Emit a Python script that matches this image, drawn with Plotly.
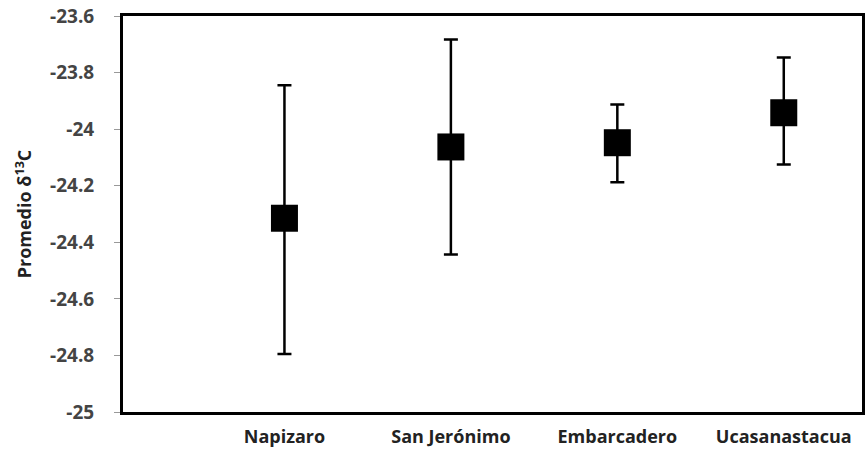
import plotly.graph_objects as go

sites = ["Napizaro", "San Jerónimo", "Embarcadero", "Ucasanastacua"]
means = [-24.315, -24.063, -24.048, -23.942]
err_plus = [0.47, 0.38, 0.135, 0.195]
err_minus = [0.48, 0.38, 0.14, 0.183]
y_ticks = [-25, -24.8, -24.6, -24.4, -24.2, -24, -23.8, -23.6]
y_tick_text = ["-25", "-24.8", "-24.6", "-24.4", "-24.2", "-24", "-23.8", "-23.6"]

xpos = list(range(len(sites)))

fig = go.Figure()
fig.add_trace(go.Scatter(
    x=xpos, y=means, mode="markers",
    marker=dict(symbol="square", size=27, color="black"),
    error_y=dict(type="data", symmetric=False, array=err_plus, arrayminus=err_minus,
                 color="black", thickness=2.5, width=7),
    showlegend=False,
))

fig.update_layout(
    width=868, height=451,
    margin=dict(l=123, r=3, t=16, b=37),
    paper_bgcolor="white", plot_bgcolor="white",
    font=dict(family="Open Sans", color="#333333"),
    xaxis=dict(
        range=[-0.97, 3.47], tickvals=xpos,
        ticktext=["<b>%s</b>" % s for s in sites],
        tickfont=dict(size=18, color="#222222"),
        showgrid=False, zeroline=False, ticks="",
        ticklabelstandoff=6,
        showline=True, linecolor="black", linewidth=3, mirror=True,
    ),
    yaxis=dict(
        range=[-25, -23.6], tickvals=y_ticks, ticktext=["<b>%s</b>" % t for t in y_tick_text],
        tickfont=dict(size=19, color="#444444"),
        showgrid=False, zeroline=False,
        ticks="outside", ticklen=6, tickcolor="#999999", tickwidth=1,
        ticklabelstandoff=16,
        showline=True, linecolor="black", linewidth=3, mirror=True,
        title=dict(text="<b>Promedio δ<sup>13</sup>C</b>", font=dict(size=18, color="#222222"), standoff=14),
    ),
)

fig.write_html("out.html")
